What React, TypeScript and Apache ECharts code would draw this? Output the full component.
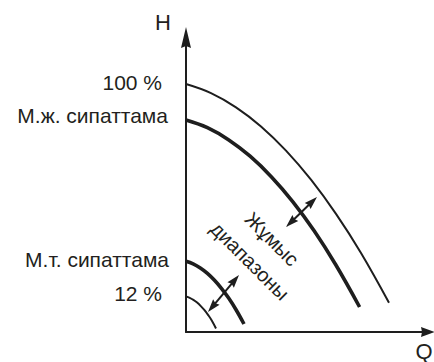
import React, { useEffect, useRef } from "react";
import * as echarts from "echarts";

// Curves: [Q, H] points (Q and H in px-like units from origin)
const CURVE_100: number[][] = [[0, 248], [25, 238.9], [50, 224.7], [75, 205.6], [100, 181.4], [125, 152.3], [150, 118.1], [175, 79], [203, 29.2]];
const CURVE_MAX: number[][] = [[0, 212], [21.4, 204.3], [42.8, 192.1], [64.1, 175.8], [85.5, 155.1], [106.9, 130.2], [128.3, 101], [149.6, 67.5], [173.6, 25]];
const CURVE_MIN: number[][] = [[0, 70.7], [7.1, 68.1], [14.3, 64], [21.4, 58.6], [28.5, 51.7], [35.6, 43.4], [42.8, 33.7], [49.9, 22.5], [58, 8]];
const CURVE_12: number[][] = [[0, 35.5], [3.7, 34.2], [7.4, 32.1], [11.1, 29.4], [14.8, 25.9], [18.5, 21.8], [22.2, 16.9], [25.9, 11.3], [30, 3.5]];

// Double arrows: [q1, h1, q2, h2]
const ARROWS: number[][] = [[100, 105, 131, 135], [22, 20, 53, 57]];

const LABELS = ["100 %", "М.ж. сипаттама", "М.т. сипаттама", "12 %"];
const AXIS_NAMES = ["H", "Q"];
const RANGE_TEXT = ["Жұмыс", "диапазоны"];

const INK = "#1e1e1e";
const TXT = "#231f20";
const FONT = "'Liberation Sans', Arial, sans-serif";

export default function App() {
  const ref = useRef<HTMLDivElement>(null);
  useEffect(() => {
    if (!ref.current) return;
    const chart = echarts.init(ref.current, undefined, { renderer: "svg" });
    const curve = (data: number[][], w: number) => ({
      type: "line",
      data,
      smooth: 0.4,
      symbol: "none",
      lineStyle: { color: INK, width: w },
      silent: true,
    });
    const textEl = (text: string, x: number, y: number, size: number, align: string, rotation = 0) => ({
      type: "text",
      x,
      y,
      rotation,
      style: { text, fill: TXT, font: `${size}px ${FONT}`, align, verticalAlign: "middle" },
    });
    chart.setOption({
      animation: false,
      backgroundColor: "#ffffff",
      grid: { left: 186, right: 6, top: 37.5, bottom: 30 },
      xAxis: {
        type: "value",
        min: 0,
        max: 242,
        axisLine: {
          show: true,
          lineStyle: { color: INK, width: 2 },
          symbol: ["none", "path://M5,0 L10,14 L5,13 L0,14 Z"],
          symbolSize: [10, 14],
        },
        axisTick: { show: false },
        axisLabel: { show: false },
        splitLine: { show: false },
      },
      yAxis: {
        type: "value",
        min: 0,
        max: 294.5,
        axisLine: {
          show: true,
          lineStyle: { color: INK, width: 2 },
          symbol: ["none", "path://M5,0 L10,21 L5,19 L0,21 Z"],
          symbolSize: [10, 21],
        },
        axisTick: { show: false },
        axisLabel: { show: false },
        splitLine: { show: false },
      },
      series: [
        curve(CURVE_100, 2),
        curve(CURVE_MAX, 3.6),
        curve(CURVE_MIN, 3.6),
        curve(CURVE_12, 2),
        {
          type: "custom",
          data: ARROWS,
          silent: true,
          renderItem: (params: any, api: any) => {
            const p1 = api.coord([api.value(0), api.value(1)]);
            const p2 = api.coord([api.value(2), api.value(3)]);
            const dx = p2[0] - p1[0];
            const dy = p2[1] - p1[1];
            const len = Math.sqrt(dx * dx + dy * dy);
            const ux = dx / len, uy = dy / len;
            const nx = -uy, ny = ux;
            const hl = 13, hw = 4.2, notch = 11.5;
            const head = (tip: number[], s: number) => ({
              type: "polygon",
              shape: {
                points: [
                  tip,
                  [tip[0] + s * ux * hl + nx * hw, tip[1] + s * uy * hl + ny * hw],
                  [tip[0] + s * ux * notch, tip[1] + s * uy * notch],
                  [tip[0] + s * ux * hl - nx * hw, tip[1] + s * uy * hl - ny * hw],
                ],
              },
              style: { fill: INK },
            });
            return {
              type: "group",
              children: [
                {
                  type: "line",
                  shape: { x1: p1[0] + ux * 8, y1: p1[1] + uy * 8, x2: p2[0] - ux * 8, y2: p2[1] - uy * 8 },
                  style: { stroke: INK, lineWidth: 2 },
                },
                head(p1, 1),
                head(p2, -1),
              ],
            };
          },
        },
      ],
      graphic: [
        textEl(AXIS_NAMES[0], 163, 22, 22, "center"),
        textEl(AXIS_NAMES[1], 424, 351, 22, "center"),
        textEl(LABELS[0], 162, 82, 21, "right"),
        textEl(LABELS[1], 168, 115, 21, "right"),
        textEl(LABELS[2], 169, 259, 21, "right"),
        textEl(LABELS[3], 162, 293, 21, "right"),
        textEl(RANGE_TEXT[0], 272, 239, 20, "center", -Math.PI / 4),
        textEl(RANGE_TEXT[1], 250, 261, 20, "center", -Math.PI / 4),
      ],
    });
    return () => chart.dispose();
  }, []);
  return (
    <div
      ref={ref}
      style={{ position: "fixed", left: 0, top: 0, width: 434, height: 362 }}
    />
  );
}
